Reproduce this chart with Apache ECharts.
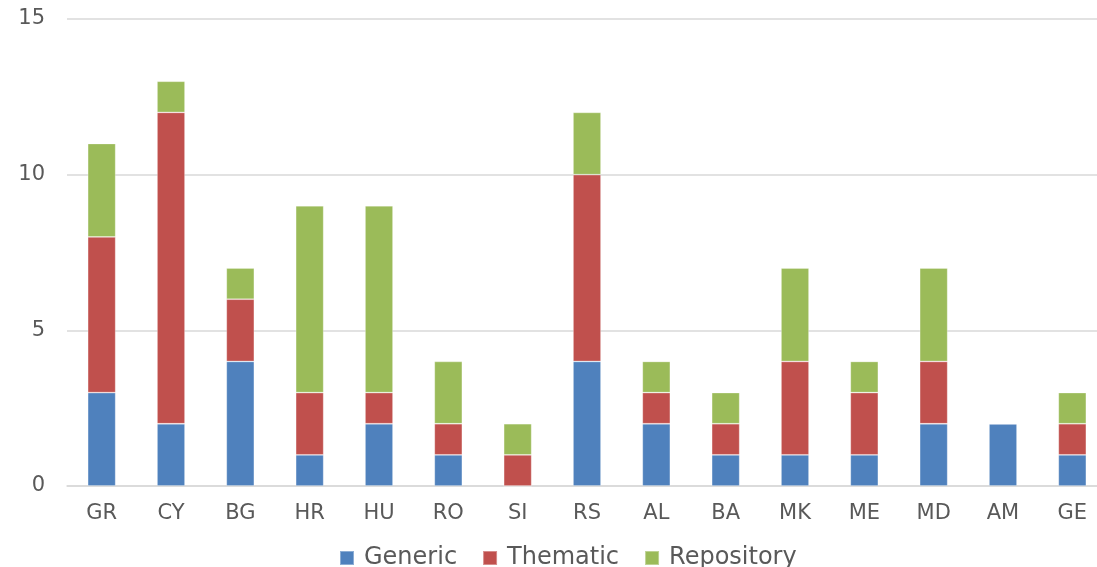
<!DOCTYPE html>
<html>
<head>
<meta charset="utf-8">
<script src="https://cdn.jsdelivr.net/npm/echarts@6/dist/echarts.min.js"></script>
<style>html,body{margin:0;padding:0;background:#fff;}#c{width:1097px;height:567px;}</style>
</head>
<body>
<div id="c"></div>
<script>
var categories = ['GR','CY','BG','HR','HU','RO','SI','RS','AL','BA','MK','ME','MD','AM','GE'];
var generic    = [3, 2, 4, 1, 2, 1, 0, 4, 2, 1, 1, 1, 2, 2, 1];
var thematic   = [5,10, 2, 2, 1, 1, 1, 6, 1, 1, 3, 2, 2, 0, 1];
var repository = [3, 1, 1, 6, 6, 2, 1, 2, 1, 1, 3, 1, 3, 0, 1];
var yTicks = [0, 5, 10, 15];

var font = 'DejaVu Sans, Verdana, sans-serif';
var chart = echarts.init(document.getElementById('c'));
function s(name, data, color) {
  return {
    name: name, type: 'bar', stack: 'total', data: data, barWidth: 28,
    itemStyle: { color: color, borderColor: 'rgba(255,255,255,0.35)', borderWidth: 0.8 },
    emphasis: { disabled: true }
  };
}
chart.setOption({
  animation: false,
  grid: { left: 67, width: 1040, top: 19, bottom: 81, containLabel: false, outerBoundsMode: 'none' },
  legend: {
    left: 334, top: 541, itemWidth: 14, itemHeight: 14, itemGap: 25,
    icon: 'rect',
    textStyle: { fontFamily: font, fontSize: 24, color: '#595959', padding: [0,0,0,5] },
    data: ['Generic', 'Thematic', 'Repository']
  },
  xAxis: {
    type: 'category', data: categories,
    axisLine: { lineStyle: { color: '#d9d9d9', width: 1.5 } },
    axisTick: { show: false },
    axisLabel: { fontFamily: font, fontSize: 21, color: '#595959', margin: 17 }
  },
  yAxis: {
    type: 'value', min: yTicks[0], max: yTicks[yTicks.length - 1], interval: 5,
    axisLine: { show: false }, axisTick: { show: false },
    splitLine: { lineStyle: { color: '#d9d9d9', width: 1.5 } },
    axisLabel: { fontFamily: font, fontSize: 21, color: '#595959', margin: 22 }
  },
  series: [
    s('Generic', generic, '#4f81bd'),
    s('Thematic', thematic, '#c0504d'),
    s('Repository', repository, '#9bbb59')
  ]
});
</script>
</body>
</html>
